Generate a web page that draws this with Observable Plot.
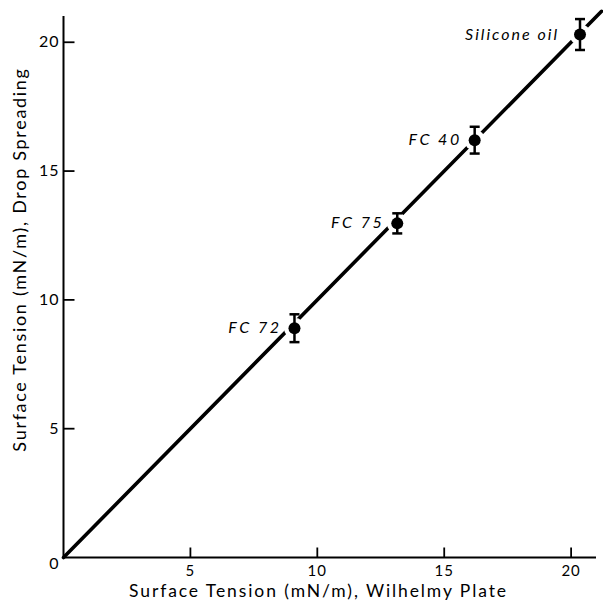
<!DOCTYPE html>
<html>
<head>
<meta charset="utf-8">
<script src="https://cdn.jsdelivr.net/npm/d3@7"></script>
<script src="https://cdn.jsdelivr.net/npm/@observablehq/plot@0.6"></script>
<style>
  html, body { margin: 0; padding: 0; background: #fff; }
  #chart svg { display: block; }
</style>
</head>
<body>
<div id="chart"></div>
<script>
// ---- data ----
const liquids   = ["FC 72", "FC 75", "FC 40", "Silicone oil"];
const wilhelmy  = [9.1, 13.15, 16.2, 20.35];   // x: Wilhelmy plate (mN/m)
const spreading = [8.9, 12.97, 16.2, 20.3];    // y: drop spreading (mN/m)
const errors    = [0.54, 0.39, 0.52, 0.6];     // ± error bar half-length
const xTicks = [5, 10, 15, 20];
const yTicks = [0, 5, 10, 15, 20];
const fitLine = [0, 21.2];                      // y = x line extent
const xDomain = [0, 21];
const yDomain = [0, 21];
const xLabel = "Surface Tension (mN/m), Wilhelmy Plate";
const yLabel = "Surface Tension (mN/m), Drop Spreading";

const points = liquids.map((name, i) => ({
  name, x: wilhelmy[i], y: spreading[i], lo: spreading[i] - errors[i], hi: spreading[i] + errors[i]
}));

// custom symbols
const vtick = { draw(ctx) { ctx.moveTo(0, 0); ctx.lineTo(0, -10); } };
const htick = { draw(ctx) { ctx.moveTo(0, 0); ctx.lineTo(11, 0); } };
const cap   = { draw(ctx) { ctx.moveTo(-5, 0); ctx.lineTo(5, 0); } };

const font = "Lato, 'Noto Sans', sans-serif";

const chart = Plot.plot({
  width: 603,
  height: 608,
  marginLeft: 63,
  marginRight: 7,
  marginTop: 16,
  marginBottom: 51,
  x: { domain: xDomain, axis: null },
  y: { domain: yDomain, axis: null },
  style: { fontFamily: font, color: "#000", background: "#fff" },
  marks: [
    // axes lines
    Plot.ruleY([0], { x1: xDomain[0], x2: xDomain[1], stroke: "#000", strokeWidth: 2 }),
    Plot.ruleX([0], { y1: yDomain[0], y2: yDomain[1], stroke: "#000", strokeWidth: 2 }),
    // inward ticks
    Plot.dot(xTicks, { x: d => d, y: 0, symbol: vtick, stroke: "#000", strokeWidth: 1.8, r: 5 }),
    Plot.dot(yTicks.filter(d => d > 0), { x: 0, y: d => d, symbol: htick, stroke: "#000", strokeWidth: 1.8, r: 5 }),
    // tick labels
    Plot.text(xTicks, { x: d => d, y: 0, text: d => String(d), dy: 14, fontSize: 15, fill: "#000" }),
    Plot.text(yTicks.filter(d => d > 0), { x: 0, y: d => d, text: d => String(d), dx: -4, textAnchor: "end", fontSize: 16, fill: "#000" }),
    Plot.text(yTicks.filter(d => d === 0), { x: 0, y: d => d, text: d => String(d), dx: -5, dy: 6, textAnchor: "end", fontSize: 16, fill: "#000" }),
    // axis titles
    Plot.text([xLabel], { frameAnchor: "bottom-left", dx: 255, dy: 39, text: d => d, textAnchor: "middle", fontSize: 17.5, fill: "#000" }),
    Plot.text([yLabel], { frameAnchor: "top-left", dx: -50, dy: 243, rotate: -90, text: d => d, textAnchor: "middle", fontSize: 18, fill: "#000" }),
    // fitted line y = x
    Plot.line(fitLine.map(v => [v, v]), { x: d => d[0], y: d => d[1], stroke: "#000", strokeWidth: 3.6, clip: false }),
    // gaps in the line around the points
    Plot.dot(points, { x: "x", y: "y", r: 10.5, fill: "#fff", stroke: "none" }),
    // error bars
    Plot.ruleX(points, { x: "x", y1: "lo", y2: "hi", stroke: "#000", strokeWidth: 2.5 }),
    Plot.dot(points, { x: "x", y: "lo", symbol: cap, stroke: "#000", strokeWidth: 2.5, r: 5 }),
    Plot.dot(points, { x: "x", y: "hi", symbol: cap, stroke: "#000", strokeWidth: 2.5, r: 5 }),
    // markers
    Plot.dot(points, { x: "x", y: "y", r: 6, fill: "#000", stroke: "none" }),
    // labels
    Plot.text(points.filter(d => d.name !== "Silicone oil"), { x: "x", y: "y", text: "name", dx: -13, textAnchor: "end", fontSize: 16, fontStyle: "italic", fill: "#000" }),
    Plot.text(points.filter(d => d.name === "Silicone oil"), { x: "x", y: "y", text: "name", dx: -21, textAnchor: "end", fontSize: 16, fontStyle: "italic", fill: "#000" })
  ]
});

// letter spacing per text mark (in mark order)
const spacing = ["1px", "1px", "0px", "1.9px", "1.7px", "2.5px", "2px"];
chart.querySelectorAll('g[aria-label="text"]').forEach((g, i) => {
  g.setAttribute("letter-spacing", spacing[i] || "0px");
});

document.getElementById("chart").appendChild(chart);
</script>
</body>
</html>
